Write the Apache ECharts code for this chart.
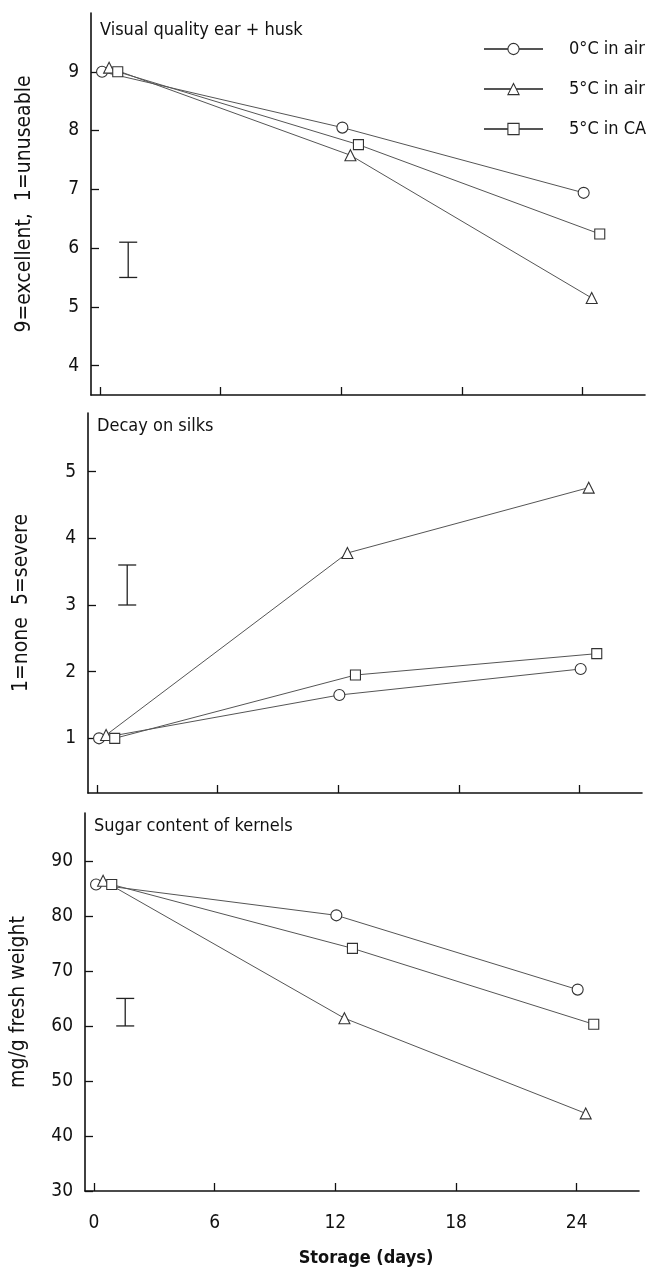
<!DOCTYPE html>
<html>
<head>
<meta charset="utf-8">
<script src="https://cdn.jsdelivr.net/npm/echarts@6/dist/echarts.min.js"></script>
<style>
html,body{margin:0;padding:0;background:#fff;}
#chart{width:652px;height:1268px;}
</style>
</head>
<body>
<div id="chart"></div>
<script>
// ---- data ----
const seriesNames = ['0°C in air', '5°C in air', '5°C in CA'];
const days0Air = [0.1, 12.05, 24.05];
const days5Air = [0.45, 12.45, 24.45];
const days5CA  = [0.88, 12.85, 24.85];

const vis0Air = [9.0, 8.05, 6.94];
const vis5Air = [9.07, 7.58, 5.15];
const vis5CA  = [9.0, 7.76, 6.24];

const decay0Air = [1.0, 1.65, 2.04];
const decay5Air = [1.05, 3.78, 4.76];
const decay5CA  = [1.0, 1.95, 2.27];

const sugar0Air = [85.7, 80.1, 66.6];
const sugar5Air = [86.4, 61.4, 44.1];
const sugar5CA  = [85.7, 74.1, 60.3];

const errDays = [1.4, 1.5, 1.55];
const errHigh = [6.1, 3.6, 65];
const errLow  = [5.5, 3.0, 60];

const xTicks = [0, 6, 12, 18, 24];
const visTicks = [4, 5, 6, 7, 8, 9];
const decayTicks = [1, 2, 3, 4, 5];
const sugarTicks = [30, 40, 50, 60, 70, 80, 90];

const panelTitles = ['Visual quality ear + husk', 'Decay on silks', 'Sugar content of kernels'];
const yNames = ['9=excellent,  1=unuseable', '1=none  5=severe', 'mg/g fresh weight'];
const xName = 'Storage (days)';

// ---- chart ----
const FONT = "'Liberation Sans Narrow', 'DejaVu Sans Condensed', 'Noto Sans', sans-serif";
const chart = echarts.init(document.getElementById('chart'), null, {renderer: 'canvas'});

const grids = [
  {left: 91, top: 13, width: 554, height: 382},
  {left: 88, top: 413, width: 554, height: 380},
  {left: 85, top: 813, width: 554, height: 379}
];
const titleOffsets = [8, 4, 4];
const yRanges = [[3.5, 10], [0.18, 5.88], [30, 98.7]];
const yTickSets = [visTicks, decayTicks, sugarTicks];
const panelData = [
  [vis0Air, vis5Air, vis5CA],
  [decay0Air, decay5Air, decay5CA],
  [sugar0Air, sugar5Air, sugar5CA]
];
const dayArrays = [days0Air, days5Air, days5CA];
const symbols = ['circle', 'triangle', 'rect'];
const symbolSizes = [11, 11, 10];

const axisLineStyle = {color: '#111', width: 1.6};

const xAxes = grids.map((g, i) => ({
  type: 'value', gridIndex: i, min: -0.45, max: 27.1,
  axisLine: {show: true, onZero: false, lineStyle: axisLineStyle},
  axisTick: {show: true, inside: true, length: 8, customValues: xTicks, lineStyle: {color: '#111', width: 1.3}},
  axisLabel: {show: i === 2, customValues: xTicks, margin: 23, color: '#111', fontSize: 19, fontFamily: FONT},
  splitLine: {show: false},
  name: i === 2 ? xName : '',
  nameLocation: 'middle', nameGap: 58,
  nameTextStyle: {fontSize: 18, fontWeight: 'bold', color: '#111', fontFamily: FONT, padding: [0, 0, 0, 8]}
}));

const yAxes = grids.map((g, i) => ({
  type: 'value', gridIndex: i, min: yRanges[i][0], max: yRanges[i][1],
  axisLine: {show: true, onZero: false, lineStyle: axisLineStyle},
  axisTick: {show: true, inside: true, length: 8, customValues: yTickSets[i], lineStyle: {color: '#111', width: 1.3}},
  axisLabel: {show: true, customValues: yTickSets[i], margin: 12, color: '#111', fontSize: 19, fontFamily: FONT},
  splitLine: {show: false},
  name: yNames[i], nameLocation: 'middle', nameGap: 56, nameRotate: 90,
  nameTextStyle: {fontSize: 21, color: '#111', fontFamily: FONT}
}));

const series = [];
panelData.forEach((set, p) => {
  set.forEach((vals, k) => {
    series.push({
      name: seriesNames[k], type: 'line', xAxisIndex: p, yAxisIndex: p,
      data: vals.map((v, j) => [dayArrays[k][j], v]),
      symbol: symbols[k], symbolSize: symbolSizes[k], showAllSymbol: true,
      lineStyle: {color: '#555', width: 1},
      itemStyle: {color: '#fff', borderColor: '#333', borderWidth: 1.1},
      emphasis: {disabled: true}, animation: false, z: 3
    });
  });
  series.push({
    type: 'custom', xAxisIndex: p, yAxisIndex: p, animation: false, z: 4,
    data: [[errDays[p], errLow[p], errHigh[p]]],
    renderItem: function (params, api) {
      const x = api.value(0);
      const lo = api.coord([x, api.value(1)]);
      const hi = api.coord([x, api.value(2)]);
      const hw = 9;
      const st = {stroke: '#222', lineWidth: 1.3};
      return {type: 'group', children: [
        {type: 'line', shape: {x1: lo[0], y1: lo[1], x2: hi[0], y2: hi[1]}, style: st},
        {type: 'line', shape: {x1: lo[0] - hw, y1: lo[1], x2: lo[0] + hw, y2: lo[1]}, style: st},
        {type: 'line', shape: {x1: hi[0] - hw, y1: hi[1], x2: hi[0] + hw, y2: hi[1]}, style: st}
      ]};
    }
  });
});

const titles = panelTitles.map((t, i) => ({
  text: t, left: grids[i].left + 9, top: grids[i].top + titleOffsets[i], padding: 0,
  textStyle: {fontSize: 18, fontWeight: 'normal', color: '#111', fontFamily: FONT}
}));

chart.setOption({
  animation: false,
  backgroundColor: '#fff',
  title: titles,
  grid: grids,
  xAxis: xAxes,
  yAxis: yAxes,
  legend: {
    data: seriesNames, orient: 'vertical', left: 483, top: 40, padding: 0,
    itemWidth: 59, itemHeight: 14, itemGap: 22,
    itemStyle: {borderWidth: 1.1},
    textStyle: {fontSize: 18, lineHeight: 14, color: '#111', fontFamily: FONT, padding: [0, 0, 0, 21]},
    selectedMode: false
  },
  series: series
});
</script>
</body>
</html>
